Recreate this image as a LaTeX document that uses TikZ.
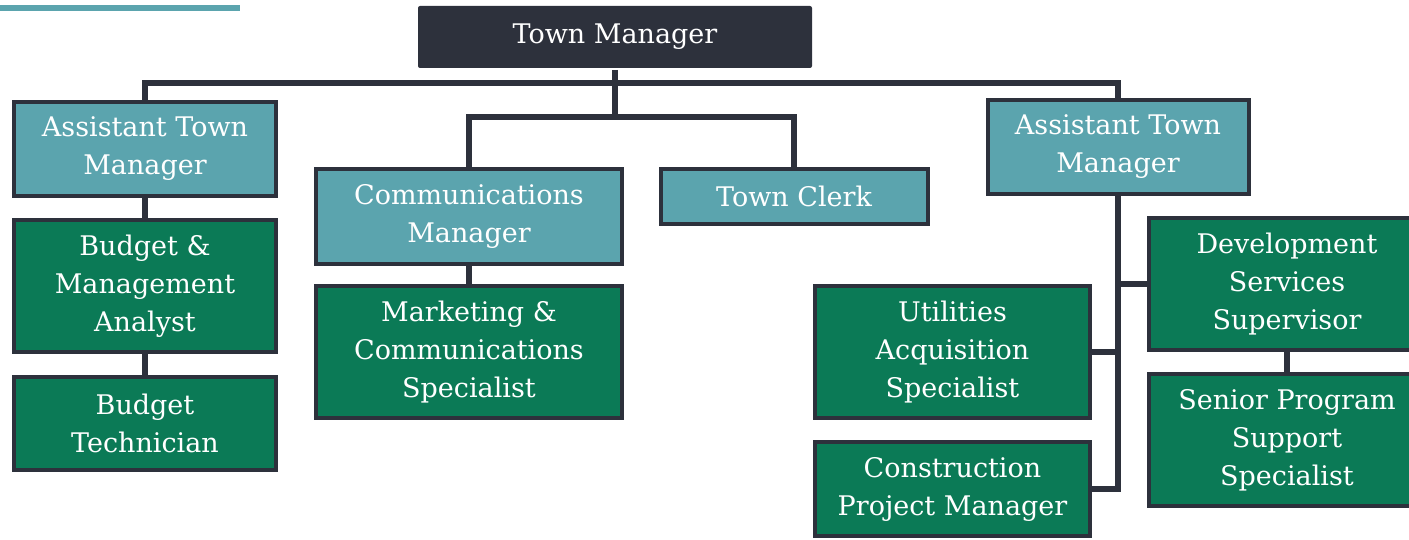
\documentclass[tikz,border=0pt]{standalone}
\usepackage{fontspec}
\setmainfont{DejaVu Serif}
\usepackage{tikz}
\usetikzlibrary{positioning}
\definecolor{DarkSlate}{HTML}{2D313C}
\definecolor{TealBox}{HTML}{5BA4AE}
\definecolor{GreenBox}{HTML}{0B7A56}

\tikzset{
  post/.style={draw=DarkSlate, line width=4pt, text=white, align=center,
    font=\fontsize{27}{38}\selectfont, inner sep=0pt},
  head/.style={post, fill=TealBox},
  staff/.style={post, fill=GreenBox},
  link/.style={draw=DarkSlate, line width=5.5pt}
}

\begin{document}
\begin{tikzpicture}[x=1pt, y=-1pt]
    \useasboundingbox (0,0) rectangle (1409,540);
    \clip (0,0) rectangle (1409,540);

    % accent bar
    \draw[TealBox, line width=6pt] (0,8) -- (240,8);

    % top
    \node[post, fill=DarkSlate, rounded corners=2pt, draw=none,
      minimum width=394pt, minimum height=62pt] (tm) at (615,37) {Town Manager};

    % left branch
    \node[head, minimum width=262pt, minimum height=94pt] (atmL) at (145,149) {Assistant Town\\Manager};
    \node[staff, minimum width=262pt, minimum height=132pt] (bma) at (145,286) {Budget \&\\Management\\Analyst};
    \node[staff, minimum width=262pt, minimum height=93pt] (btech) at (145,423.5) {Budget\\Technician};

    % middle
    \node[head, minimum width=306pt, minimum height=95pt] (comm) at (469,216.5) {Communications\\Manager};
    \node[staff, minimum width=306pt, minimum height=132pt] (mkt) at (469,352) {Marketing \&\\Communications\\Specialist};
    \node[head, minimum width=267pt, minimum height=55pt] (clerk) at (794,196.5) {Town Clerk};

    % right branch
    \node[head, minimum width=261pt, minimum height=94pt] (atmR) at (1118,147) {Assistant Town\\Manager};
    \node[staff, minimum width=275pt, minimum height=132pt] (util) at (952.5,352) {Utilities\\Acquisition\\Specialist};
    \node[staff, minimum width=275pt, minimum height=94pt] (cpm) at (952.5,489) {Construction\\Project Manager};
    \node[staff, minimum width=276pt, minimum height=132pt] (dss) at (1287,284) {Development\\Services\\Supervisor};
    \node[staff, minimum width=276pt, minimum height=132pt] (spss) at (1287,440) {Senior Program\\Support\\Specialist};

    % connectors
    \coordinate (bus) at (615,83);
    \coordinate (sub) at (615,117);
    \draw[link] (atmL.north) |- (bus) -| (atmR.north);
    \draw[link] (tm.south) -- (sub);
    \draw[link] (comm.north) |- (sub) -| (clerk.north);
    \draw[link] (atmL.south) -- (bma.north);
    \draw[link] (bma.south) -- (btech.north);
    \draw[link] (comm.south) -- (mkt.north);
    \draw[link] (atmR.south) -- (atmR.south |- cpm.east) -- (cpm.east);
    \draw[link] (util.east) -- (util.east -| atmR.south);
    \draw[link] (dss.west) -- (dss.west -| atmR.south);
    \draw[link] (dss.south) -- (spss.north);
  \end{tikzpicture}
\end{document}
